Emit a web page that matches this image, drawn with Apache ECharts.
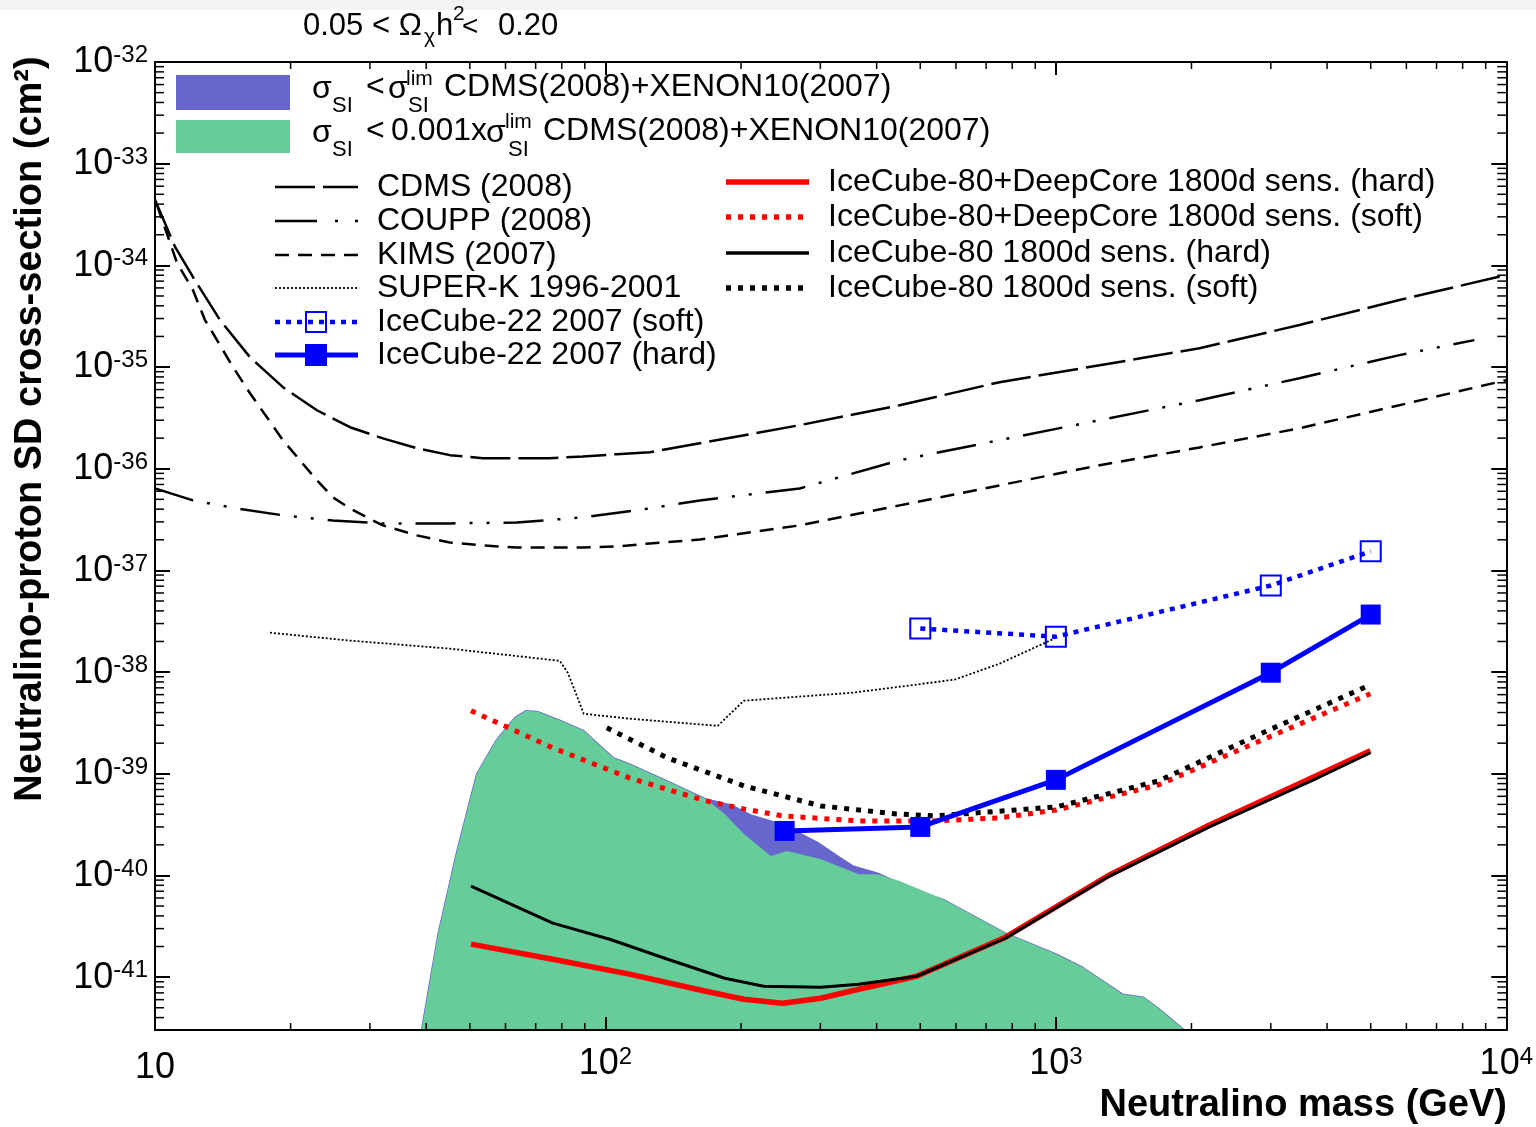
<!DOCTYPE html>
<html>
<head>
<meta charset="utf-8">
<title>Neutralino-proton SD cross-section limits</title>
<script src="https://cdn.jsdelivr.net/npm/echarts@6/dist/echarts.min.js"></script>
<style>
  html, body { margin: 0; padding: 0; background: #ffffff; }
  #chart { width: 1536px; height: 1127px; }
</style>
</head>
<body>
<div id="chart"></div>
<script>
const FONT = "'Liberation Sans', Arial, Helvetica, sans-serif";

// ---- allowed MSSM regions (upper boundary of each filled band), sigma in cm^2 ----
const siLimitMass  = [39, 42.5, 46.8, 51.8, 57.1, 62.9, 66.6, 70.8, 79.6, 89.5, 104, 113, 137, 167, 190, 210, 249, 295, 328, 354, 402, 483, 566, 773, 1003, 1146, 1406, 1565, 1690, 1950];
const siLimitSigma = [2.9e-42, 2.65e-41, 1.74e-40, 1.0e-39, 2.11e-39, 3.56e-39, 4.17e-39, 4.07e-39, 3.32e-39, 2.65e-39, 1.44e-39, 1.25e-39, 8.5e-40, 5.66e-40, 4.94e-40, 3.94e-40, 3.13e-40, 2.13e-40, 1.55e-40, 1.24e-40, 1.05e-40, 7.34e-41, 5.73e-41, 2.71e-41, 1.68e-41, 1.25e-41, 6.8e-42, 6.34e-42, 4.94e-42, 2.9e-42];

const siTightMass  = [39, 42.5, 46.8, 51.8, 57.1, 62.9, 66.6, 70.8, 79.6, 89.5, 104, 113, 137, 167, 184, 203, 233, 253, 300, 365, 402, 450, 541, 566, 773, 1003, 1146, 1406, 1565, 1690, 1950];
const siTightSigma = [2.9e-42, 2.65e-41, 1.74e-40, 1.0e-39, 2.11e-39, 3.56e-39, 4.17e-39, 4.07e-39, 3.32e-39, 2.65e-39, 1.44e-39, 1.25e-39, 8.5e-40, 5.66e-40, 4.03e-40, 2.56e-40, 1.55e-40, 1.74e-40, 1.45e-40, 1.03e-40, 1.03e-40, 8.8e-41, 6.27e-41, 5.73e-41, 2.71e-41, 1.68e-41, 1.25e-41, 6.8e-42, 6.34e-42, 4.94e-42, 2.9e-42];

// ---- direct detection limits ----
const cdmsMass  = [10, 11.08, 12.14, 13.94, 16.25, 19.23, 22.88, 27.09, 32.06, 38.14, 45.14, 53.44, 63.57, 75.25, 89.07, 105.9, 125.4, 162, 269.9, 449.9, 749.9, 1250, 2084, 3473, 5789, 10000];
const cdmsSigma = [4.41e-34, 1.52e-34, 7.69e-35, 2.90e-35, 1.25e-35, 6.34e-36, 3.76e-36, 2.56e-36, 1.99e-36, 1.59e-36, 1.36e-36, 1.27e-36, 1.27e-36, 1.27e-36, 1.32e-36, 1.39e-36, 1.45e-36, 1.78e-36, 2.68e-36, 4.21e-36, 7.10e-36, 1.04e-35, 1.53e-35, 2.59e-35, 4.56e-35, 8.04e-35];

const couppMass  = [10, 12.14, 15.21, 19.23, 24.83, 32.06, 45.14, 63.57, 89.07, 125.4, 162, 269.9, 449.9, 749.9, 1250, 2084, 3473, 5789, 8492];
const couppSigma = [6.41e-37, 4.88e-37, 4.07e-37, 3.48e-37, 3.10e-37, 2.90e-37, 2.90e-37, 2.96e-37, 3.32e-37, 4.07e-37, 4.88e-37, 6.4e-37, 1.21e-36, 1.91e-36, 3.00e-36, 4.72e-36, 7.77e-36, 1.31e-35, 1.84e-35];

const kimsMass  = [10.1, 11.19, 12.14, 12.91, 13.73, 14.90, 16.25, 17.72, 19.23, 20.98, 22.88, 24.83, 27.09, 29.54, 32.06, 38.14, 45.14, 53.44, 63.57, 75.25, 89.07, 105.9, 125.4, 162, 269.9, 449.9, 749.9, 1250, 2084, 3473, 5789, 10000];
const kimsSigma = [3.94e-34, 1.06e-34, 5.72e-35, 2.90e-35, 1.84e-35, 9.98e-36, 5.53e-36, 3.21e-36, 1.91e-36, 1.21e-36, 7.69e-37, 5.23e-37, 4.07e-37, 3.32e-37, 2.77e-37, 2.21e-37, 1.88e-37, 1.76e-37, 1.68e-37, 1.68e-37, 1.68e-37, 1.72e-37, 1.84e-37, 2.01e-37, 2.77e-37, 4.36e-37, 6.86e-37, 1.08e-36, 1.62e-36, 2.50e-36, 4.21e-36, 7.43e-36];

const superKMass  = [18, 27.09, 45.14, 79.2, 82.5, 89.5, 113.2, 177.6, 202.8, 353.9, 595.8, 749.9, 993];
const superKSigma = [2.44e-38, 2.04e-38, 1.70e-38, 1.29e-38, 9.86e-39, 3.89e-39, 3.48e-39, 2.96e-39, 5.23e-39, 6.27e-39, 8.42e-39, 1.21e-38, 2.14e-38];

// ---- IceCube-22 (2007) limits ----
const ic22SoftMass  = [500, 1000, 3000, 5000];
const ic22SoftSigma = [2.68e-38, 2.23e-38, 7.10e-38, 1.54e-37];
const ic22HardMass  = [250, 500, 1000, 3000, 5000];
const ic22HardSigma = [2.74e-40, 3.0e-40, 8.71e-40, 9.86e-39, 3.68e-38];

// ---- IceCube-80 (+DeepCore) 1800 d sensitivities ----
const dcHardMass  = [50.3, 76.4, 113, 167, 203, 247.5, 300.5, 364.9, 490.8, 773, 1302, 2193, 3692, 4991];
const dcHardSigma = [2.11e-41, 1.50e-41, 1.07e-41, 7.26e-42, 6.06e-42, 5.53e-42, 6.20e-42, 7.60e-42, 1.02e-41, 2.47e-41, 9.86e-41, 3.14e-40, 9.11e-40, 1.68e-39];
const ic80HardMass  = [50.3, 76.4, 102.2, 137.5, 184, 224.5, 300.5, 364.9, 490.8, 773, 1302, 2193, 3692, 4991];
const ic80HardSigma = [7.86e-41, 3.40e-41, 2.36e-41, 1.50e-41, 9.75e-42, 8.13e-42, 7.95e-42, 8.51e-42, 1.02e-41, 2.42e-41, 9.64e-41, 3.00e-40, 8.51e-40, 1.61e-39];
const dcSoftMass  = [50.3, 76.4, 113, 167, 203, 247.5, 364.9, 541, 750, 1003, 1690, 2845, 4991];
const dcSoftSigma = [4.17e-39, 1.80e-39, 9.11e-40, 5.41e-40, 4.51e-40, 3.85e-40, 3.44e-40, 3.44e-40, 3.68e-40, 4.41e-40, 7.77e-40, 2.11e-39, 6.12e-39];
const ic80SoftMass  = [100.7, 137.5, 203, 300.5, 443, 541, 1003, 1690, 2845, 4991];
const ic80SoftSigma = [2.83e-39, 1.43e-39, 7.60e-40, 4.83e-40, 4.03e-40, 3.85e-40, 4.72e-40, 8.51e-40, 2.47e-39, 7.5e-39];

// ---- tick label exponents ----
const xTickExponents = [1, 2, 3, 4];
const yTickExponents = [-41, -40, -39, -38, -37, -36, -35, -34, -33, -32];

// The y axis works in units of 1e-42 cm^2 so that the log scale stays well
// inside double-precision rounding limits; labels print the true exponent.
const Y_UNIT_EXP = -42;
const Y_UNIT = Math.pow(10, Y_UNIT_EXP);
const toAxis = s => s / Y_UNIT;

const X_MIN = 10, X_MAX = 1e4;
const Y_MIN = Math.pow(10, -41.52 - Y_UNIT_EXP), Y_MAX = Math.pow(10, -32 - Y_UNIT_EXP);

const zip = (xs, ys) => xs.map((x, i) => [x, toAxis(ys[i])]);

// minor tick positions (2..9 x 10^k inside each axis range)
const xMinor = [];
for (let k = 1; k < 4; k++) for (let m = 2; m <= 9; m++) xMinor.push([m * Math.pow(10, k), Y_MAX]);
const yMinor = [];
for (let k = 0; k < 10; k++) for (let m = 2; m <= 9; m++) {
  const v = m * Math.pow(10, k);
  if (v > Y_MIN && v < Y_MAX) yMinor.push([X_MIN, v]);
}

const MINOR_X = 7, MINOR_Y = 9, MAJOR_X = 13, MAJOR_Y = 15;

function expOf(v) {
  const e = Math.log10(v), r = Math.round(e);
  return Math.abs(e - r) < 1e-6 ? r : null;
}

const labelRich = {
  b: { fontSize: 36, fontFamily: FONT, color: '#000', lineHeight: 37, verticalAlign: 'bottom' },
  c: { fontSize: 36, fontFamily: FONT, color: '#000', lineHeight: 37, padding: [9, 0, 0, 0] },
  s: { fontSize: 24, fontFamily: FONT, color: '#000', lineHeight: 24, padding: [0, 0, 22, 0], verticalAlign: 'top' }
};

function lineSeries(name, xs, ys, color, width, type, extra) {
  return Object.assign({
    name, type: 'line', data: zip(xs, ys), symbol: 'none', showSymbol: false,
    lineStyle: { color, width, type, cap: 'butt' }, z: 5, silent: true
  }, extra || {});
}

function minorTicks(axis) {
  return function (params, api) {
    const cs = params.coordSys;
    const st = { stroke: '#000', lineWidth: 1.5 };
    if (axis === 'x') {
      const px = api.coord([api.value(0), Y_MAX])[0];
      const b = cs.y + cs.height, t = cs.y;
      return { type: 'group', children: [
        { type: 'line', shape: { x1: px, y1: b, x2: px, y2: b - MINOR_X }, style: st },
        { type: 'line', shape: { x1: px, y1: t, x2: px, y2: t + MINOR_X }, style: st }
      ]};
    }
    const py = api.coord([X_MIN, api.value(1)])[1];
    const l = cs.x, r = cs.x + cs.width;
    return { type: 'group', children: [
      { type: 'line', shape: { x1: l, y1: py, x2: l + MINOR_Y, y2: py }, style: st },
      { type: 'line', shape: { x1: r, y1: py, x2: r - MINOR_Y, y2: py }, style: st }
    ]};
  };
}

// ---- text and legend helpers ----
function txt(text, x, y, size, opts) {
  opts = opts || {};
  return {
    type: 'text', x, y, z: 100, rotation: opts.rotation || 0, silent: true,
    style: {
      text, fill: '#000',
      font: (opts.bold ? 'bold ' : '') + size + 'px ' + FONT,
      textAlign: opts.align || 'left', textVerticalAlign: 'middle'
    }
  };
}
function seg(x1, y1, x2, y2, color, width, dash) {
  return { type: 'line', z: 100, silent: true, shape: { x1, y1, x2, y2 },
           style: { stroke: color, lineWidth: width, lineDash: dash || null } };
}
function box(cx, cy, size, fill, stroke) {
  return { type: 'rect', z: 101, silent: true,
           shape: { x: cx - size / 2, y: cy - size / 2, width: size, height: size },
           style: { fill: fill, stroke: stroke, lineWidth: 2 } };
}

const LX1 = 275, LX2 = 358, RX1 = 726, RX2 = 809;
const LT = 377, RT = 828, LF = 32;

const graphics = [
  { type: 'rect', z: 0, silent: true, shape: { x: 0, y: 0, width: 1536, height: 10 }, style: { fill: '#f3f3f3' } },

  // relic density condition
  txt('0.05 < \u03A9', 303, 26, 31),
  txt('\u03C7', 424, 37, 21),
  txt('h', 436, 26, 31),
  txt('2', 453, 14, 21),
  txt('<', 462, 27, 28),
  txt('0.20', 498, 26, 31),

  // axis titles
  txt('Neutralino-proton SD cross-section (cm\u00B2)', 31, 429, 38, { bold: true, align: 'center', rotation: Math.PI / 2 }),
  txt('Neutralino mass (GeV)', 1507, 1106, 38, { bold: true, align: 'right' }),

  // filled-band legend
  { type: 'rect', z: 100, silent: true, shape: { x: 176, y: 75, width: 114, height: 35 }, style: { fill: '#6666cc' } },
  { type: 'rect', z: 100, silent: true, shape: { x: 176, y: 120, width: 114, height: 33 }, style: { fill: '#66cc99' } },
  txt('\u03C3', 312, 89, LF), txt('SI', 332, 106, 22), txt('<', 366, 87, LF),
  txt('\u03C3', 388, 89, LF), txt('lim', 406, 79, 21), txt('SI', 408, 106, 22),
  txt('CDMS(2008)+XENON10(2007)', 444, 87, LF),
  txt('\u03C3', 312, 133, LF), txt('SI', 332, 150, 22), txt('<', 366, 131, LF),
  txt('0.001x', 391, 131, LF),
  txt('\u03C3', 486, 133, LF), txt('lim', 505, 122, 21), txt('SI', 508, 150, 22),
  txt('CDMS(2008)+XENON10(2007)', 543, 131, LF),

  // line legend, left column
  seg(LX1, 187, LX2, 187, '#000', 2.5, [40, 8]),
  txt('CDMS (2008)', LT, 187, LF),
  seg(LX1, 221, LX2, 221, '#000', 2.5, [42, 18, 3, 17, 3, 40]),
  txt('COUPP (2008)', LT, 221, LF),
  seg(LX1, 255, LX2, 255, '#000', 2.5, [14, 9]),
  txt('KIMS (2007)', LT, 255, LF),
  seg(LX1, 288, LX2, 288, '#000', 1.8, [2, 2]),
  txt('SUPER-K 1996-2001', LT, 288, LF),
  seg(LX1, 322, LX2, 322, '#0000ff', 4.5, [5, 6]),
  box(316, 322, 20, 'rgba(0,0,0,0)', '#0000ff'),
  txt('IceCube-22 2007 (soft)', LT, 322, LF),
  seg(LX1, 355, LX2, 355, '#0000ff', 5),
  box(316, 355, 20, '#0000ff', '#0000ff'),
  txt('IceCube-22 2007 (hard)', LT, 355, LF),

  // line legend, right column
  seg(RX1, 182, RX2, 182, '#ff0000', 5.5),
  txt('IceCube-80+DeepCore 1800d sens. (hard)', RT, 182, LF),
  seg(RX1, 217, RX2, 217, '#ff0000', 5.5, [5, 7]),
  txt('IceCube-80+DeepCore 1800d sens. (soft)', RT, 217, LF),
  seg(RX1, 253, RX2, 253, '#000', 3.5),
  txt('IceCube-80 1800d sens. (hard)', RT, 253, LF),
  seg(RX1, 288, RX2, 288, '#000', 5.5, [5, 7]),
  txt('IceCube-80 1800d sens. (soft)', RT, 288, LF)
];

const axisCommonX = {
  type: 'log', logBase: 10, min: X_MIN, max: X_MAX, z: 10,
  axisLine: { show: true, onZero: false, lineStyle: { color: '#000', width: 2 } },
  axisTick: { show: true, inside: true, length: MAJOR_X, lineStyle: { color: '#000', width: 2 } },
  splitLine: { show: false }, minorTick: { show: false }
};
const axisCommonY = {
  type: 'log', logBase: 10, min: Y_MIN, max: Y_MAX, splitNumber: 10, z: 10,
  axisLine: { show: true, onZero: false, lineStyle: { color: '#000', width: 2 } },
  axisTick: { show: true, inside: true, length: MAJOR_Y, lineStyle: { color: '#000', width: 2 } },
  splitLine: { show: false }, minorTick: { show: false }
};

const option = {
  animation: false,
  backgroundColor: '#ffffff',
  grid: { left: 155, right: 29, top: 62, bottom: 97 },
  xAxis: [
    Object.assign({}, axisCommonX, {
      position: 'bottom',
      axisLabel: {
        margin: 15, rich: labelRich,
        formatter: v => {
          const e = expOf(v);
          if (e === null || xTickExponents.indexOf(e) < 0) return '';
          return e === 1 ? '{c|10}' : '{b|10}{s|' + e + '}';
        }
      }
    }),
    Object.assign({}, axisCommonX, { position: 'top', axisLabel: { show: false } })
  ],
  yAxis: [
    Object.assign({}, axisCommonY, {
      position: 'left',
      axisLabel: {
        margin: 7, rich: labelRich,
        formatter: v => {
          const e0 = expOf(v);
          if (e0 === null) return '';
          const e = e0 + Y_UNIT_EXP;
          if (yTickExponents.indexOf(e) < 0) return '';
          return '{b|10}{s|' + e + '}';
        }
      }
    }),
    Object.assign({}, axisCommonY, { position: 'right', axisLabel: { show: false } })
  ],
  graphic: graphics,
  series: [
    {
      name: 'sigma_SI < sigma_SI^lim', type: 'line', data: zip(siLimitMass, siLimitSigma),
      symbol: 'none', showSymbol: false, z: 1, silent: true,
      lineStyle: { color: '#6666cc', width: 1.5 },
      areaStyle: { color: '#6666cc', opacity: 1, origin: 'start' }
    },
    {
      name: 'sigma_SI < 0.001 sigma_SI^lim', type: 'line', data: zip(siTightMass, siTightSigma),
      symbol: 'none', showSymbol: false, z: 2, silent: true,
      lineStyle: { width: 0, color: '#66cc99' },
      areaStyle: { color: '#66cc99', opacity: 1, origin: 'start' }
    },
    lineSeries('CDMS (2008)', cdmsMass, cdmsSigma, '#000', 2.5, [40, 8]),
    lineSeries('COUPP (2008)', couppMass, couppSigma, '#000', 2.5, [40, 14, 3, 14, 3, 14]),
    lineSeries('KIMS (2007)', kimsMass, kimsSigma, '#000', 2.5, [14, 9]),
    lineSeries('SUPER-K 1996-2001', superKMass, superKSigma, '#000', 1.8, [2, 2]),
    lineSeries('IceCube-80+DeepCore 1800d sens. (hard)', dcHardMass, dcHardSigma, '#ff0000', 5.5, 'solid'),
    lineSeries('IceCube-80 1800d sens. (hard)', ic80HardMass, ic80HardSigma, '#000', 3, 'solid'),
    lineSeries('IceCube-80+DeepCore 1800d sens. (soft)', dcSoftMass, dcSoftSigma, '#ff0000', 5, [5, 7]),
    lineSeries('IceCube-80 1800d sens. (soft)', ic80SoftMass, ic80SoftSigma, '#000', 5, [5, 7]),
    lineSeries('IceCube-22 2007 (soft)', ic22SoftMass, ic22SoftSigma, '#0000ff', 4.5, [5, 6], {
      symbol: 'rect', showSymbol: true, symbolSize: 20,
      itemStyle: { color: 'rgba(0,0,0,0)', borderColor: '#0000ff', borderWidth: 2 }, z: 6
    }),
    lineSeries('IceCube-22 2007 (hard)', ic22HardMass, ic22HardSigma, '#0000ff', 5, 'solid', {
      symbol: 'rect', showSymbol: true, symbolSize: 20,
      itemStyle: { color: '#0000ff', borderColor: '#0000ff', borderWidth: 0 }, z: 6
    }),
    {
      type: 'custom', name: 'x minor ticks', data: xMinor, xAxisIndex: 0, yAxisIndex: 0,
      renderItem: minorTicks('x'), clip: false, silent: true, z: 11
    },
    {
      type: 'custom', name: 'y minor ticks', data: yMinor, xAxisIndex: 0, yAxisIndex: 0,
      renderItem: minorTicks('y'), clip: false, silent: true, z: 11
    }
  ]
};

const chart = echarts.init(document.getElementById('chart'), null, { renderer: 'canvas' });
chart.setOption(option);
</script>
</body>
</html>
